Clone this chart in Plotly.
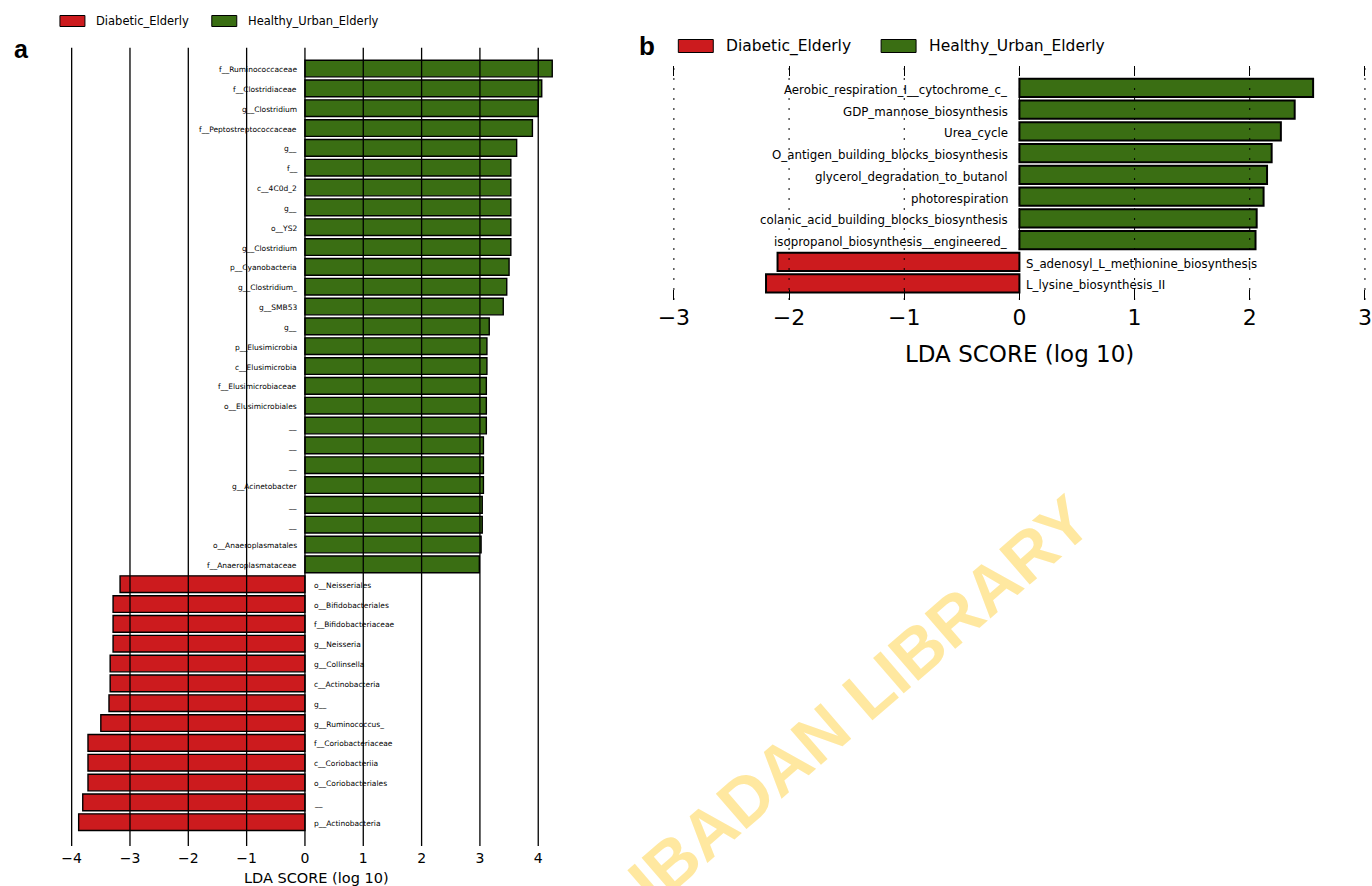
import plotly.graph_objects as go

# ---------------- data ----------------
# Panel a: taxa, listed top to bottom
taxa_healthy = [
    "f__Ruminococcaceae", "f__Clostridiaceae", "g__Clostridium", "f__Peptostreptococcaceae",
    "g__", "f__", "c__4C0d_2", "g__", "o__YS2", "g__Clostridium", "p__Cyanobacteria",
    "g__Clostridium_", "g__SMB53", "g__", "p__Elusimicrobia", "c__Elusimicrobia",
    "f__Elusimicrobiaceae", "o__Elusimicrobiales", "__", "__", "__", "g__Acinetobacter",
    "__", "__", "o__Anaeroplasmatales", "f__Anaeroplasmataceae",
]
lda_healthy = [
    4.24, 4.06, 4.00, 3.90, 3.63, 3.53, 3.53, 3.53, 3.53, 3.53, 3.50,
    3.46, 3.40, 3.16, 3.12, 3.12, 3.11, 3.11, 3.11, 3.06, 3.06, 3.06,
    3.04, 3.04, 3.02, 2.99,
]
taxa_diabetic = [
    "o__Neisseriales", "o__Bifidobacteriales", "f__Bifidobacteriaceae", "g__Neisseria",
    "g__Collinsella", "c__Actinobacteria", "g__", "g__Ruminococcus_",
    "f__Coriobacteriaceae", "c__Coriobacteriia", "o__Coriobacteriales", "__",
    "p__Actinobacteria",
]
lda_diabetic = [
    -3.17, -3.29, -3.29, -3.29, -3.34, -3.34, -3.36, -3.50,
    -3.72, -3.72, -3.72, -3.81, -3.88,
]

# Panel b: pathways, listed top to bottom
paths_healthy = [
    "Aerobic_respiration_I__cytochrome_c_", "GDP_mannose_biosynthesis", "Urea_cycle",
    "O_antigen_building_blocks_biosynthesis", "glycerol_degradation_to_butanol",
    "photorespiration", "colanic_acid_building_blocks_biosynthesis",
    "isopropanol_biosynthesis__engineered_",
]
lda_paths_healthy = [2.55, 2.39, 2.27, 2.19, 2.15, 2.12, 2.06, 2.05]
paths_diabetic = ["S_adenosyl_L_methionine_biosynthesis", "L_lysine_biosynthesis_II"]
lda_paths_diabetic = [-2.10, -2.20]

ticks_a = [-4, -3, -2, -1, 0, 1, 2, 3, 4]
ticks_b = [-3, -2, -1, 0, 1, 2, 3]
group_names = ["Diabetic_Elderly", "Healthy_Urban_Elderly"]

RED = "#CC1B1E"
GREEN = "#3A6E13"
FONT = "DejaVu Sans"
W, H = 1372, 886


def px_x(v):
    # horizontal page position (px) -> paper fraction
    return (v - 8) / 0.993 / W


def px_y(v):
    return 1 - v / H


fig = go.Figure()
annotations = []
shapes = []


def add_panel(names_pos, vals_pos, names_neg, vals_neg, xa, ya, lw, label_size,
              shift_pos, shift_neg, yshift):
    labels = names_pos + names_neg
    values = vals_pos + vals_neg
    n = len(labels)
    pos_y = [n - 1 - i for i in range(len(names_pos))]
    neg_y = [n - 1 - len(names_pos) - i for i in range(len(names_neg))]
    fig.add_trace(go.Bar(
        x=vals_neg, y=neg_y, orientation="h", width=0.84, xaxis=xa, yaxis=ya,
        marker=dict(color=RED, line=dict(color="black", width=lw)),
        showlegend=False, hoverinfo="skip"))
    fig.add_trace(go.Bar(
        x=vals_pos, y=pos_y, orientation="h", width=0.84, xaxis=xa, yaxis=ya,
        marker=dict(color=GREEN, line=dict(color="black", width=lw)),
        showlegend=False, hoverinfo="skip"))
    for lab, v, yy in zip(labels, values, pos_y + neg_y):
        annotations.append(dict(
            x=0, y=yy, xref=xa, yref=ya, text=lab, showarrow=False,
            xanchor="right" if v > 0 else "left", yanchor="middle",
            xshift=shift_pos if v > 0 else shift_neg, yshift=yshift,
            font=dict(family=FONT, size=label_size, color="black")))


add_panel(taxa_healthy, lda_healthy, taxa_diabetic, lda_diabetic, "x", "y",
          1.4, 7.5, -6, 7, -1)
add_panel(paths_healthy, lda_paths_healthy, paths_diabetic, lda_paths_diabetic,
          "x2", "y2", 2.0, 11.8, -9, 5, -2)

# solid grid over the bars in panel a, dotted grid in panel b
for v in ticks_a:
    shapes.append(dict(type="line", xref="x", yref="y domain", x0=v, x1=v, y0=0, y1=1,
                       line=dict(color="black", width=1.3), layer="above"))
for v in ticks_b:
    shapes.append(dict(type="line", xref="x2", yref="y2 domain", x0=v, x1=v, y0=0, y1=1,
                       line=dict(color="black", width=1, dash="2px,8px"), layer="above"))


# legends
def legend_row(x_rect, rect_w, rect_h, y_mid, gap_text, second_x, size):
    for name, col, x0 in zip(group_names, [RED, GREEN], [x_rect, second_x]):
        shapes.append(dict(type="rect", xref="paper", yref="paper",
                           x0=px_x(x0), x1=px_x(x0 + rect_w),
                           y0=px_y(y_mid + rect_h / 2), y1=px_y(y_mid - rect_h / 2),
                           fillcolor=col, line=dict(color="black", width=1)))
        annotations.append(dict(x=px_x(x0 + rect_w + gap_text), y=px_y(y_mid),
                                xref="paper", yref="paper", text=name, showarrow=False,
                                xanchor="left", yanchor="middle",
                                font=dict(family=FONT, size=size, color="black")))


legend_row(58, 25, 11, 21, 9, 210, 11.5)
legend_row(677, 35, 13, 46, 11, 880, 15.5)

# panel letters
annotations.append(dict(x=px_x(20), y=px_y(49), xref="paper", yref="paper", text="<b>a</b>",
                        xanchor="center", yanchor="middle", showarrow=False,
                        font=dict(family="Liberation Sans", size=25, color="black")))
annotations.append(dict(x=px_x(646), y=px_y(46), xref="paper", yref="paper", text="<b>b</b>",
                        xanchor="center", yanchor="middle", showarrow=False,
                        font=dict(family="Liberation Sans", size=26, color="black")))

# axis titles
annotations.append(dict(x=px_x(315), y=px_y(878), xref="paper", yref="paper",
                        text="LDA SCORE (log 10)", showarrow=False,
                        xanchor="center", yanchor="middle",
                        font=dict(family=FONT, size=14.5, color="black")))
annotations.append(dict(x=0, y=px_y(354), xref="x2", yref="paper",
                        text="LDA SCORE (log 10)", showarrow=False,
                        xanchor="center", yanchor="middle",
                        font=dict(family=FONT, size=23, color="black")))

# library watermark
annotations.append(dict(x=px_x(858), y=px_y(700), xref="paper", yref="paper",
                        text="<b>IBADAN LIBRARY</b>", showarrow=False, textangle=-40.8,
                        xanchor="center", yanchor="middle",
                        font=dict(family="Liberation Sans", size=68, color="#FFE8A0")))

fig.update_layout(
    width=W, height=H, margin=dict(l=0, r=0, t=0, b=0), autosize=False,
    paper_bgcolor="white", plot_bgcolor="white", showlegend=False,
    barmode="overlay",
    xaxis=dict(domain=[px_x(66.8), px_x(554.3)], range=[-4.05, 4.3], anchor="y",
               tickvals=ticks_a, showgrid=False, zeroline=False, showline=False,
               ticks="", tickfont=dict(family=FONT, size=14, color="black"),
               ticklabelstandoff=2),
    yaxis=dict(domain=[1 - 846 / H, 1 - 47.7 / H], range=[-1.2, 39.05], visible=False),
    xaxis2=dict(domain=[px_x(666.8), min(1.0, px_x(1370.1))], range=[-3.05, 3.05], anchor="y2",
                tickvals=ticks_b, showgrid=False, zeroline=False, showline=False,
                ticks="inside", ticklen=10, tickwidth=1.2, tickcolor="black",
                mirror="ticks", tickfont=dict(family=FONT, size=22, color="black"),
                ticklabelstandoff=2, ticklabeloverflow="allow"),
    yaxis2=dict(domain=[1 - 300 / H, 1 - 66 / H], range=[-0.76, 10.01], visible=False),
    shapes=shapes,
    annotations=annotations,
)

fig.write_html("out.html")
